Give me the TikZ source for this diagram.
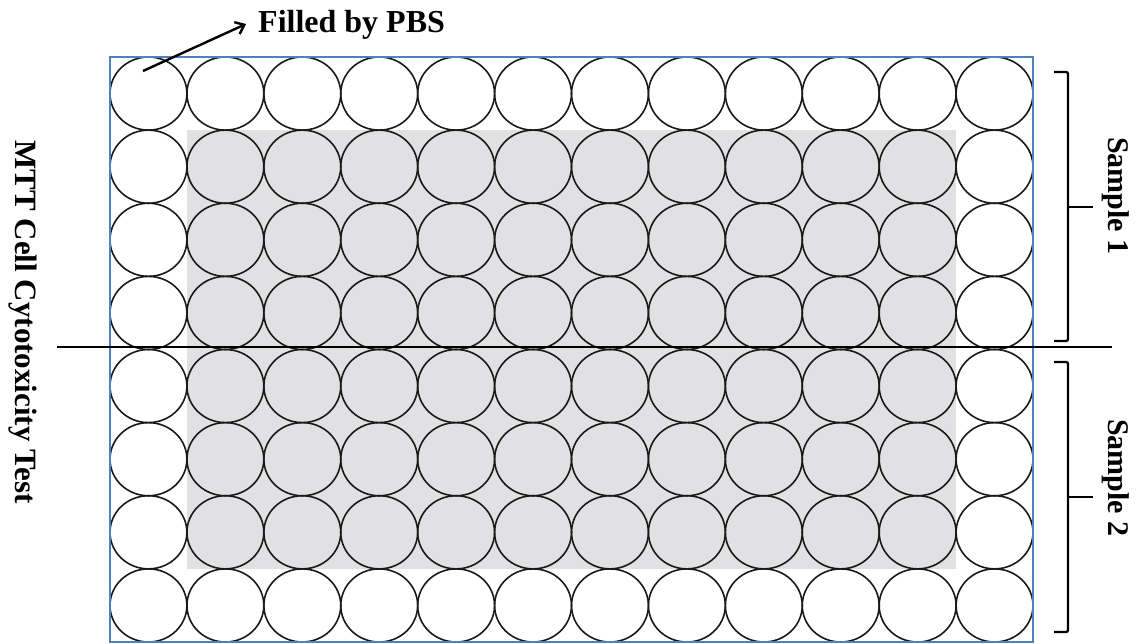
\documentclass[tikz,border=0pt]{standalone}
\usepackage{fontspec}
\setmainfont{Liberation Serif}
\usetikzlibrary{shapes.geometric,arrows.meta}
\definecolor{plateblue}{RGB}{79,129,189}
\definecolor{wellgray}{RGB}{225,225,227}
\definecolor{ink}{RGB}{25,25,25}
\begin{document}
\begin{tikzpicture}[x=1pt,y=-1pt,
  well/.style={ellipse, draw=ink, line width=1.6pt, minimum width=76.9pt, minimum height=73.1pt, inner sep=0pt, outer sep=0pt},
  lbl/.style={font=\bfseries\fontsize{30}{36}\selectfont, inner sep=0pt, text=black},
  brk/.style={draw=black, line width=2.3pt, rounded corners=2pt},
  divider/.style={draw=black, line width=2.5pt}]
\useasboundingbox (0,0) rectangle (1140,644);
% grey sample area
\fill[wellgray] (186.9,130.1) rectangle (956.1,569);
% wells
\foreach \r in {1,...,8}
  \foreach \c in {1,...,12} {
    \node[well] (w-\r-\c) at ({110+(\c-0.5)*76.917}, {57+(\r-0.5)*73.125}) {};
  }
% plate outline
\node[draw=plateblue, line width=1.4pt, minimum width=923pt, minimum height=585pt, inner sep=0pt, outer sep=0pt] (plate) at (571.5,349.5) {};
% divider line
\coordinate (divL) at (57,347);
\coordinate (divR) at (1112,347);
\draw[divider] (divL) -- (divR);
% label filled by PBS
\node[lbl, font=\bfseries\fontsize{32}{38}\selectfont, anchor=base west] (pbs) at (258,33) {Filled by PBS};
\coordinate (arrstart) at (143,71);
\coordinate (arrend) at (246,24);
\draw[line width=2.4pt, -{Straight Barb[length=8pt,width=13pt,line width=2.4pt]}] (arrstart) -- (arrend);
% left title
\node[lbl, font=\bfseries\fontsize{31}{37}\selectfont, rotate=-90, anchor=base] (mtt) at (16,322) {MTT Cell Cytotoxicity Test};
% brackets
\coordinate (b1a) at (1054,72);
\coordinate (b1b) at (1054,341);
\coordinate (b1m) at (1068,207);
\coordinate (b1t) at (1093,207);
\draw[brk] (b1a) -- (1068,72) -- (1068,341) -- (b1b);
\draw[brk] (b1m) -- (b1t);
\coordinate (b2a) at (1054,362);
\coordinate (b2b) at (1054,632);
\coordinate (b2m) at (1068,497);
\coordinate (b2t) at (1093,497);
\draw[brk] (b2a) -- (1068,362) -- (1068,632) -- (b2b);
\draw[brk] (b2m) -- (b2t);
\node[lbl, rotate=-90, anchor=base] (s1) at (1108,196) {Sample 1};
\node[lbl, rotate=-90, anchor=base] (s2) at (1108,478) {Sample 2};
\end{tikzpicture}
\end{document}
